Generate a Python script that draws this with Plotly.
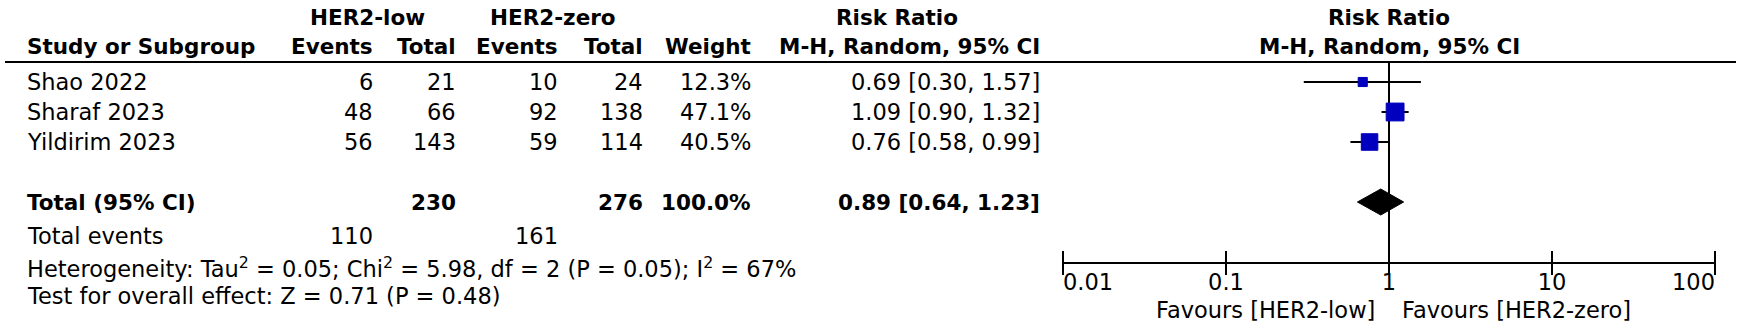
import numpy as np
import plotly.graph_objects as go

# ---------------- data ----------------
studies = ["Shao 2022", "Sharaf 2023", "Yildirim 2023"]
low_events = [6, 48, 56]
low_total = [21, 66, 143]
zero_events = [10, 92, 59]
zero_total = [24, 138, 114]
weights = [12.3, 47.1, 40.5]
rr = [0.69, 1.09, 0.76]
rr_lo = [0.30, 0.90, 0.58]
rr_hi = [1.57, 1.32, 0.99]

total_low = 230
total_zero = 276
total_weight = 100.0
pooled_rr = 0.89
pooled_lo = 0.64
pooled_hi = 1.23
events_low_sum = 110
events_zero_sum = 161
heterogeneity_text = ("Heterogeneity: Tau<sup>2</sup> = 0.05; Chi<sup>2</sup> = 5.98, "
                      "df = 2 (P = 0.05); I<sup>2</sup> = 67%")
overall_text = "Test for overall effect: Z = 0.71 (P = 0.48)"

axis_ticks = [0.01, 0.1, 1, 10, 100]
axis_tick_labels = ["0.01", "0.1", "1", "10", "100"]
favours_left = "Favours [HER2-low]"
favours_right = "Favours [HER2-zero]"

# ---------------- layout (pixels) ----------------
W, H = 1742, 327
FONT = "DejaVu Sans"
FS = 22.5
FSB = 21.5
HDR1_Y, HDR2_Y, LINE_Y = 17, 46, 62
ROW_Y0, ROW_STEP = 82, 30
TOTAL_Y, EVENTS_Y, HET_Y, TEST_Y = 202, 236, 267, 296
AXIS_Y, TICKLAB_Y, FAV_Y = 263, 284, 310
row_y = [ROW_Y0 + ROW_STEP * i for i in range(len(studies))]

X_NAME = 25
X_LE, X_LT, X_ZE, X_ZT, X_W, X_RR = 375, 458, 560, 645, 753, 1042
FOREST_L, FOREST_R = 1063, 1715
BLUE = "#0000BE"

fig = go.Figure()


def txt(s, xpx, y, anchor="left", bold=False):
    fig.add_annotation(
        x=xpx / W, xref="paper", y=y, yref="y",
        text=f"<b>{s}</b>" if bold else s,
        showarrow=False, xanchor=anchor, yanchor="middle",
        font=dict(family=FONT, size=FSB if bold else FS, color="black"),
    )


# headers
txt("HER2-low", 367, HDR1_Y, "center", True)
txt("HER2-zero", 553, HDR1_Y, "center", True)
txt("Risk Ratio", 897, HDR1_Y, "center", True)
txt("Study or Subgroup", X_NAME, HDR2_Y, "left", True)
txt("Events", X_LE, HDR2_Y, "right", True)
txt("Total", X_LT, HDR2_Y, "right", True)
txt("Events", X_ZE, HDR2_Y, "right", True)
txt("Total", X_ZT, HDR2_Y, "right", True)
txt("Weight", X_W, HDR2_Y, "right", True)
txt("M-H, Random, 95% CI", X_RR, HDR2_Y, "right", True)

# forest header (centred on RR = 1)
for s, y in (("Risk Ratio", HDR1_Y), ("M-H, Random, 95% CI", HDR2_Y)):
    fig.add_annotation(x=0, xref="x", y=y, yref="y", text=f"<b>{s}</b>",
                       showarrow=False, xanchor="center", yanchor="middle",
                       font=dict(family=FONT, size=FSB, color="black"))

# study rows
for i, s in enumerate(studies):
    y = row_y[i]
    txt(s, X_NAME, y)
    txt(str(low_events[i]), X_LE, y, "right")
    txt(str(low_total[i]), X_LT, y, "right")
    txt(str(zero_events[i]), X_ZE, y, "right")
    txt(str(zero_total[i]), X_ZT, y, "right")
    txt(f"{weights[i]:.1f}%", X_W, y, "right")
    txt(f"{rr[i]:.2f} [{rr_lo[i]:.2f}, {rr_hi[i]:.2f}]", X_RR, y, "right")

# totals
txt("Total (95% CI)", X_NAME, TOTAL_Y, "left", True)
txt(str(total_low), X_LT, TOTAL_Y, "right", True)
txt(str(total_zero), X_ZT, TOTAL_Y, "right", True)
txt(f"{total_weight:.1f}%", X_W, TOTAL_Y, "right", True)
txt(f"{pooled_rr:.2f} [{pooled_lo:.2f}, {pooled_hi:.2f}]", X_RR, TOTAL_Y, "right", True)
txt("Total events", X_NAME, EVENTS_Y)
txt(str(events_low_sum), X_LE, EVENTS_Y, "right")
txt(str(events_zero_sum), X_ZE, EVENTS_Y, "right")
txt(heterogeneity_text, X_NAME, HET_Y)
txt(overall_text, X_NAME, TEST_Y)

# header rule
fig.add_shape(type="line", xref="paper", yref="y", x0=5 / W, x1=1736 / W,
              y0=LINE_Y, y1=LINE_Y, line=dict(color="black", width=2))

# line of no effect
fig.add_trace(go.Scatter(x=[1, 1], y=[LINE_Y, AXIS_Y], mode="lines",
                         line=dict(color="black", width=2), cliponaxis=False,
                         hoverinfo="skip"))

# confidence intervals
for i in range(len(studies)):
    fig.add_trace(go.Scatter(x=[rr_lo[i], rr_hi[i]], y=[row_y[i], row_y[i]],
                             mode="lines", line=dict(color="black", width=2),
                             cliponaxis=False, hoverinfo="skip"))

# weight squares
fig.add_trace(go.Scatter(
    x=rr, y=row_y, mode="markers", opacity=1,
    marker=dict(symbol="square", color=BLUE, opacity=1,
                size=[2.6 * np.sqrt(w) for w in weights],
                line=dict(width=1, color=BLUE)),
    cliponaxis=False, hoverinfo="skip"))

# pooled diamond
DH = 13
fig.add_trace(go.Scatter(
    x=[pooled_lo, pooled_rr, pooled_hi, pooled_rr, pooled_lo],
    y=[TOTAL_Y, TOTAL_Y - DH, TOTAL_Y, TOTAL_Y + DH, TOTAL_Y],
    mode="lines", fill="toself", fillcolor="black",
    line=dict(color="black", width=1), cliponaxis=False, hoverinfo="skip"))

# axis line, ticks, labels
fig.add_trace(go.Scatter(x=[axis_ticks[0], axis_ticks[-1]], y=[AXIS_Y, AXIS_Y],
                         mode="lines", line=dict(color="black", width=2),
                         cliponaxis=False, hoverinfo="skip"))
fig.add_trace(go.Scatter(x=axis_ticks, y=[AXIS_Y] * len(axis_ticks), mode="markers",
                         marker=dict(symbol="line-ns", size=17,
                                     line=dict(color="black", width=2)),
                         cliponaxis=False, hoverinfo="skip"))
positions = ["middle right"] + ["middle center"] * (len(axis_ticks) - 2) + ["middle left"]
fig.add_trace(go.Scatter(x=axis_ticks, y=[TICKLAB_Y] * len(axis_ticks), mode="text",
                         text=axis_tick_labels, textposition=positions,
                         textfont=dict(family=FONT, size=FS, color="black"),
                         cliponaxis=False, hoverinfo="skip"))

fig.add_annotation(x=0, xref="x", y=FAV_Y, yref="y", text=favours_left,
                   showarrow=False, xanchor="right", yanchor="middle", xshift=-12,
                   font=dict(family=FONT, size=FS, color="black"))
fig.add_annotation(x=0, xref="x", y=FAV_Y, yref="y", text=favours_right,
                   showarrow=False, xanchor="left", yanchor="middle", xshift=11,
                   font=dict(family=FONT, size=FS, color="black"))

fig.update_layout(
    width=W, height=H, margin=dict(l=0, r=0, t=0, b=0),
    paper_bgcolor="white", plot_bgcolor="white", showlegend=False,
    xaxis=dict(type="log", range=[np.log10(axis_ticks[0]), np.log10(axis_ticks[-1])],
               domain=[FOREST_L / W, FOREST_R / W], visible=False, fixedrange=True),
    yaxis=dict(range=[H, 0], domain=[0, 1], visible=False, fixedrange=True),
)

fig.write_html("out.html", config={"displayModeBar": False},
               post_script="document.body.style.margin='0';document.body.style.overflow='hidden';")
